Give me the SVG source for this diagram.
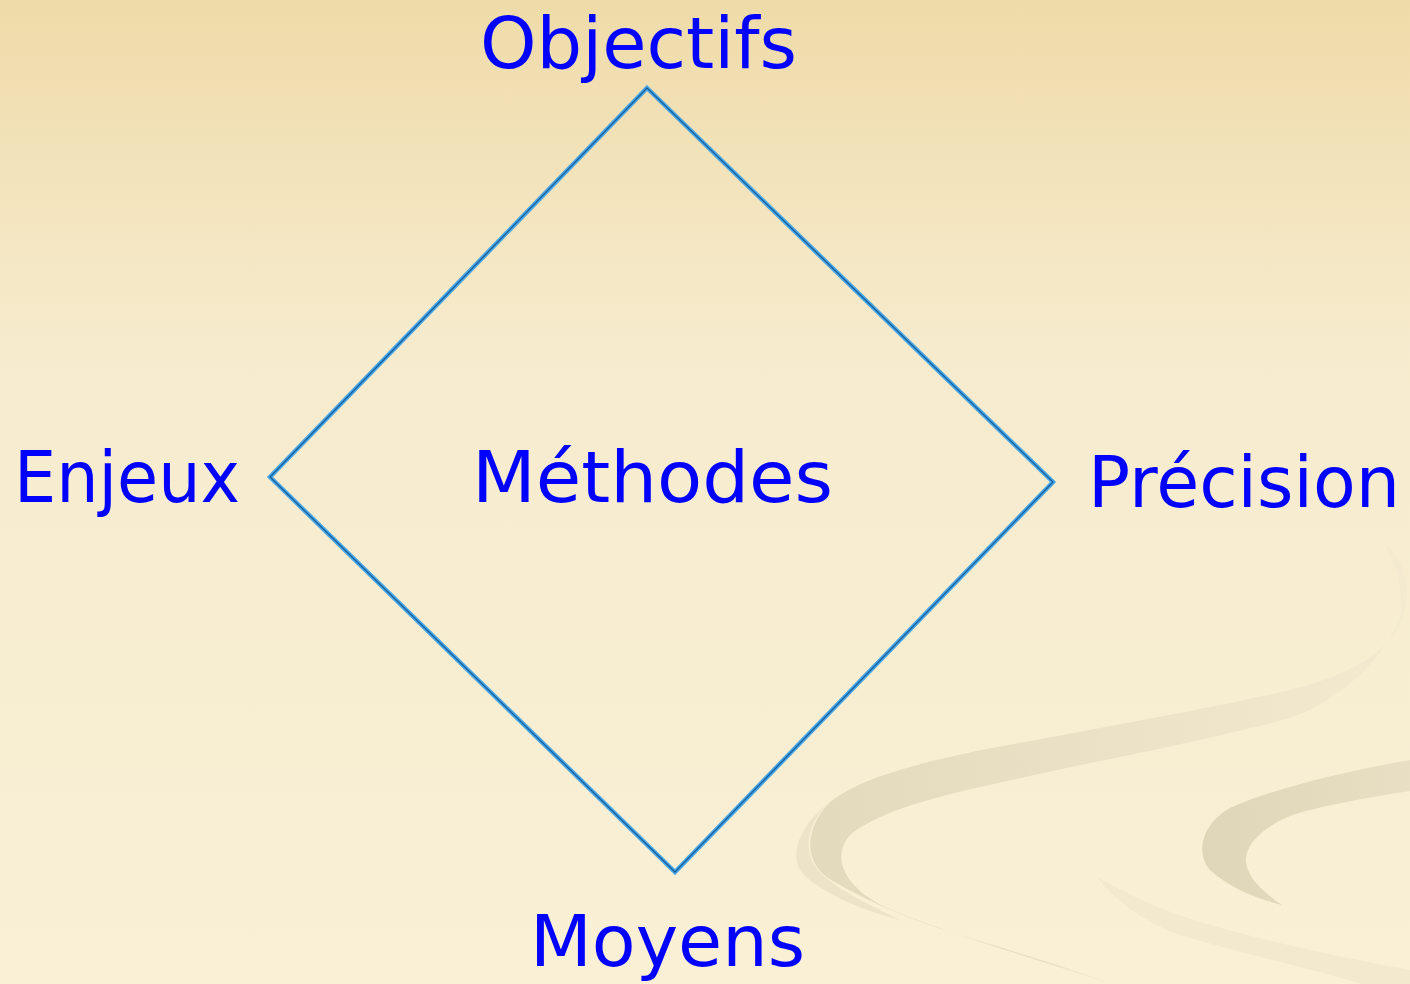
<svg xmlns="http://www.w3.org/2000/svg" width="1410" height="984" viewBox="0 0 1410 984">
<defs>
<linearGradient id="bg" x1="0" y1="0" x2="0" y2="1">
<stop offset="0" stop-color="#efdba9"/>
<stop offset="0.35" stop-color="#f6ebcd"/>
<stop offset="1" stop-color="#f9f0d6"/>
</linearGradient>
<linearGradient id="sw1" x1="0" y1="0" x2="1" y2="0">
<stop offset="0" stop-color="#e3d9bd"/>
<stop offset="1" stop-color="#f3ead0"/>
</linearGradient>
<linearGradient id="sw2" x1="0" y1="0" x2="1" y2="0">
<stop offset="0" stop-color="#dfd5b8"/>
<stop offset="1" stop-color="#e8dfc4"/>
</linearGradient>
<style>
.lbl{font-family:"DejaVu Sans","Liberation Sans",sans-serif;font-size:72px;fill:#0000ff}
.outer{fill:none;stroke:#4aa6e4;stroke-width:4.5;stroke-linejoin:miter}
.inner{fill:none;stroke:#17609e;stroke-width:1.3;stroke-linejoin:miter}
</style>
</defs>
<rect width="1410" height="984" fill="url(#bg)"/>
<g id="background">
<path d="M1112,984 C1060,965 1000,947 960,935 C900,917 852,893 828,878 C805,862 803,830 830,802 C860,778 920,762 997,747 C1100,728 1200,710 1290,690 C1370,670 1400,640 1406,605 C1410,575 1398,555 1386,545 C1396,565 1404,590 1400,615 C1392,650 1340,705 1282,720 C1200,742 1100,760 1021,778 C940,795 880,810 850,835 C830,858 845,890 892,910 C960,938 1040,960 1112,984 Z" fill="url(#sw1)"/>
<path d="M830,802 C800,825 790,852 800,870 C815,890 860,910 900,920 C860,900 815,880 810,855 C805,835 815,815 830,802 Z" fill="#ede3c8"/>
<path d="M1410,760 C1340,772 1270,790 1230,808 C1200,825 1196,855 1210,870 C1230,888 1255,898 1282,905 C1260,890 1245,875 1246,858 C1248,838 1275,818 1310,810 C1350,800 1385,795 1410,791 Z" fill="url(#sw2)"/>
<path d="M1097,877 C1130,895 1160,910 1200,922 C1260,940 1330,955 1410,970 L1410,984 L1362,984 C1300,966 1230,950 1180,935 C1140,920 1115,900 1097,877 Z" fill="#f3e9cf"/>
</g>
<g id="diamond">
<polygon class="outer" points="647,88 1053,482 675,872 270,477"/>
<polygon class="inner" points="647,88 1053,482 675,872 270,477"/>
</g>
<g id="node-objectifs"><text class="lbl" x="480" y="68" textLength="317" lengthAdjust="spacingAndGlyphs">Objectifs</text></g>
<g id="node-enjeux"><text class="lbl" x="14" y="502" textLength="226" lengthAdjust="spacingAndGlyphs">Enjeux</text></g>
<g id="node-methodes"><text class="lbl" x="472" y="502" textLength="361" lengthAdjust="spacingAndGlyphs">Méthodes</text></g>
<g id="node-precision"><text class="lbl" x="1088" y="507" textLength="312" lengthAdjust="spacingAndGlyphs">Précision</text></g>
<g id="node-moyens"><text class="lbl" x="530" y="966" textLength="275" lengthAdjust="spacingAndGlyphs">Moyens</text></g>
</svg>
